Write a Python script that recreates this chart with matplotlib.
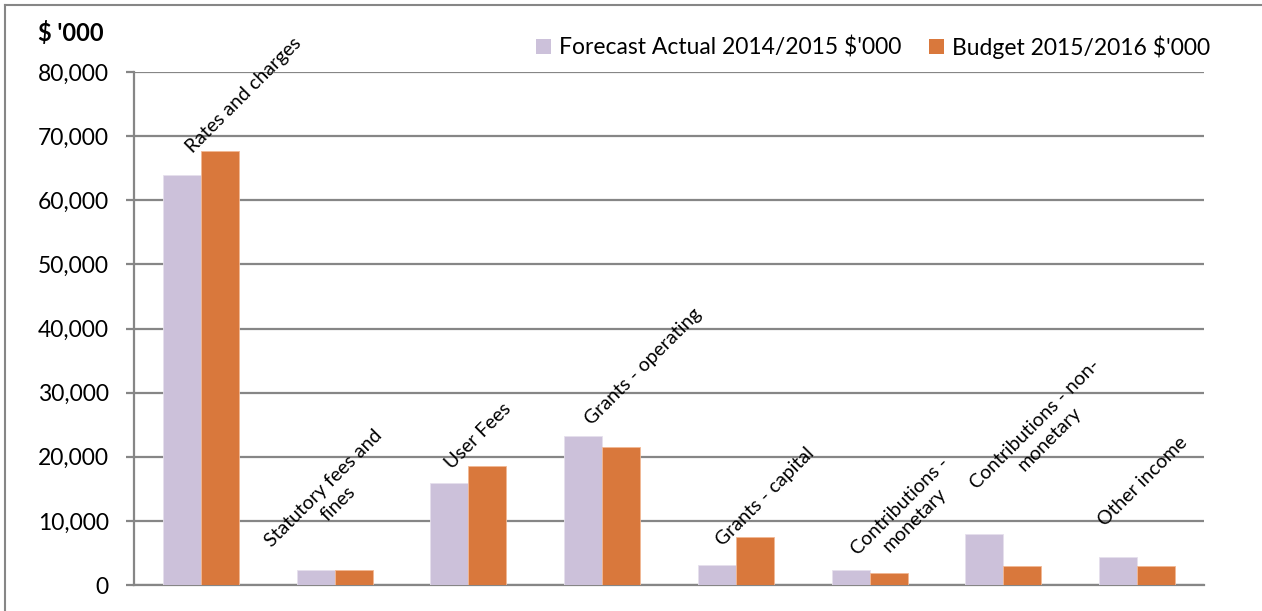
import matplotlib
matplotlib.use("Agg")
import matplotlib.pyplot as plt
from matplotlib.lines import Line2D
from matplotlib.patches import Patch
import numpy as np

# ---- data ----
categories = ["Rates and charges", "Statutory fees and\nfines", "User Fees",
              "Grants - operating", "Grants - capital", "Contributions -\nmonetary",
              "Contributions - non-\nmonetary", "Other income"]
forecast_2014_15 = [64000, 2400, 15900, 23300, 3100, 2350, 8000, 4400]
budget_2015_16 = [67700, 2400, 18500, 21500, 7550, 1850, 3000, 3000]
series_names = ["Forecast Actual 2014/2015 $'000", "Budget 2015/2016 $'000"]
y_ticks = [0, 10000, 20000, 30000, 40000, 50000, 60000, 70000, 80000]

# label placement (layout only): x offset from category centre, y centre in data units
label_dx = [0.32, -0.03, 0.07, 0.31, 0.22, 0.28, 0.29, 0.04]
label_y = [76400, 13900, 23200, 34000, 13700, 11200, 23900, 16100]

plt.rcParams['font.family'] = ['Lato', 'DejaVu Sans']

W, H = 1262, 611
fig = plt.figure(figsize=(W / 100, H / 100), dpi=100)
ax = fig.add_axes([134 / W, 1 - 585 / H, (1204 - 134) / W, (585 - 72) / H])

c1 = '#CCC1DA'
c2 = '#D9783C'
grid_c = '#868686'

x = np.arange(len(categories))
bw = 0.284
ax.bar(x - bw / 2, forecast_2014_15, bw, color=c1, edgecolor='#E6E0EC', linewidth=0.6, zorder=3)
ax.bar(x + bw / 2, budget_2015_16, bw, color=c2, edgecolor='#F2B894', linewidth=0.6, zorder=3)

ax.set_xlim(-0.5, len(categories) - 0.5)
ax.set_ylim(0, 80000)
ax.set_yticks(y_ticks)
ax.set_yticklabels([f"{v:,}" for v in y_ticks], fontsize=16.5)
ax.set_xticks([])
ax.yaxis.grid(True, color=grid_c, linewidth=1.6, zorder=0)
ax.set_axisbelow(True)
for s in ['top', 'right']:
    ax.spines[s].set_visible(False)
for s in ['left', 'bottom']:
    ax.spines[s].set_color(grid_c)
    ax.spines[s].set_linewidth(1.6)
ax.tick_params(axis='y', length=6, width=1.6, color=grid_c, pad=12, labelcolor='black')

for i, lab in enumerate(categories):
    ax.text(i + label_dx[i], label_y[i], lab, rotation=45, rotation_mode='anchor',
            ha='center', va='center', multialignment='center', fontsize=14,
            color='black', zorder=5, linespacing=1.25)

handles = [Patch(facecolor=c1, edgecolor='none'), Patch(facecolor=c2, edgecolor='none')]
fig.legend(handles, series_names, loc='center right', bbox_to_anchor=(1219 / W, 1 - 47 / H),
           ncol=2, frameon=False, fontsize=16.5, handlelength=0.65, handleheight=0.65,
           handletextpad=0.35, columnspacing=1.2, borderaxespad=0)

fig.text(38 / W, 1 - 33 / H, "$ '000", fontsize=17, fontweight='bold', ha='left', va='center')

# chart-area border (left and top edges visible)
fig.add_artist(Line2D([5 / W, 5 / W], [0, 1 - 5 / H], color=grid_c, linewidth=1.5, transform=fig.transFigure))
fig.add_artist(Line2D([5 / W, 1], [1 - 5 / H, 1 - 5 / H], color=grid_c, linewidth=1.5, transform=fig.transFigure))

fig.savefig("out.png", dpi=100)
